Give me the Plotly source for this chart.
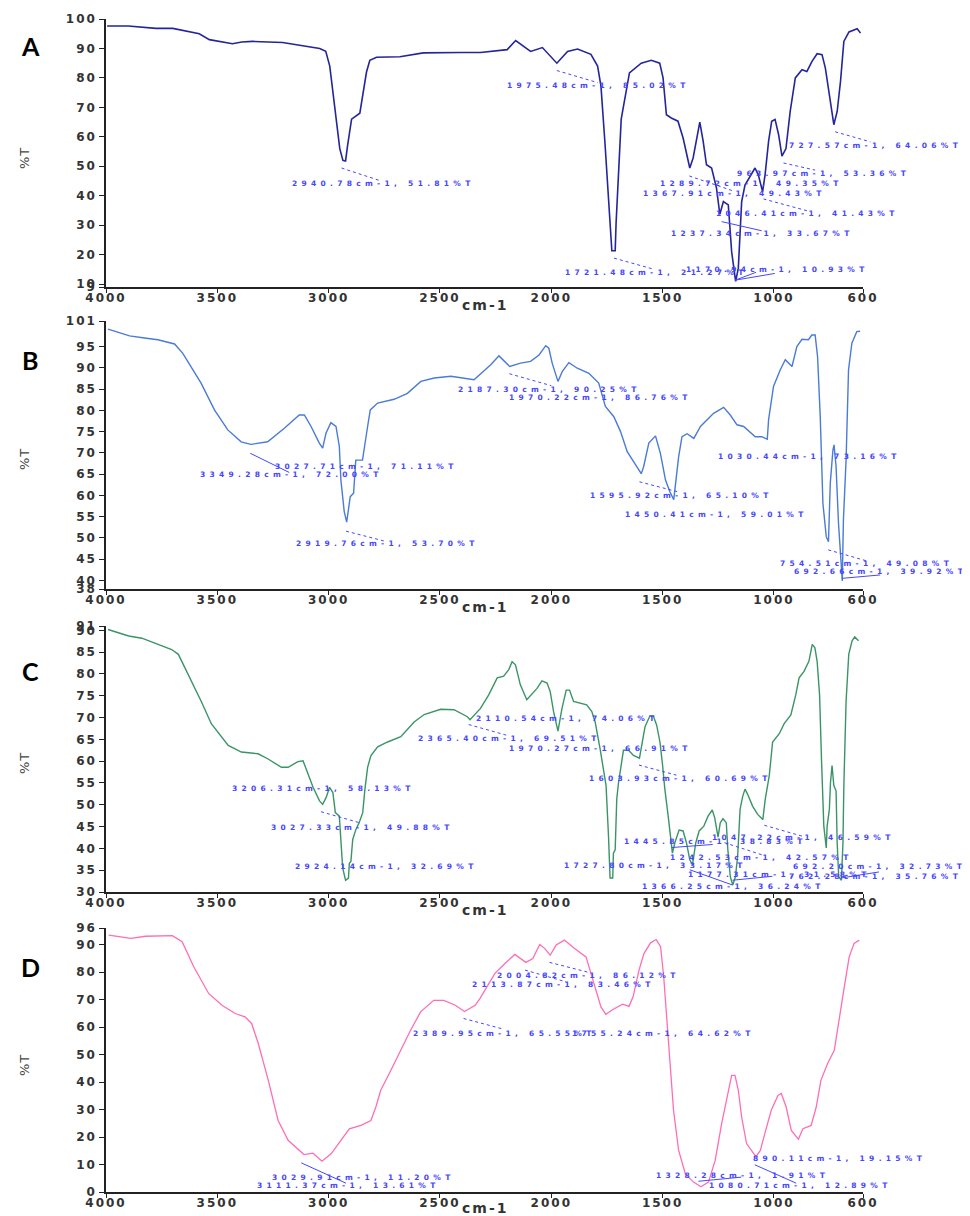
import plotly.graph_objects as go

# ---------------- data (wavenumber cm-1, %T) ----------------
A_wn = [3995, 3900, 3776, 3700, 3581, 3536, 3432, 3390, 3342, 3207, 3040, 3013, 2995, 2981, 2963,
        2950, 2936, 2924, 2915, 2905, 2897, 2860, 2845, 2830, 2815, 2785, 2680, 2575, 2408, 2318,
        2198, 2160, 2093, 2040, 1975, 1927, 1882, 1822, 1792, 1777, 1759, 1739, 1728, 1713, 1709,
        1686, 1671, 1649, 1596, 1551, 1513, 1498, 1483, 1461, 1431, 1408, 1378, 1363, 1333, 1318,
        1303, 1280, 1258, 1243, 1227, 1205, 1190, 1172, 1160, 1145, 1130, 1085, 1070, 1051, 1040,
        1024, 1010, 995, 979, 964, 946, 927, 904, 874, 852, 829, 806, 784, 769, 746, 731, 716,
        701, 686, 663, 626, 611]
A_T = [97.6, 97.6, 96.8, 96.8, 95.0, 93.0, 91.6, 92.2, 92.4, 92.0, 90.0, 89.0, 84.0, 75.0, 64.0,
       56.0, 52.0, 51.8, 57.0, 62.0, 66.0, 68.0, 75.0, 82.0, 86.0, 87.0, 87.2, 88.5, 88.6, 88.6,
       89.6, 92.7, 89.0, 90.3, 85.0, 89.0, 89.8, 88.0, 84.0, 77.3, 58.0, 34.0, 21.3, 21.3, 30.6,
       66.0, 72.0, 81.7, 85.0, 86.0, 85.0, 80.0, 67.5, 66.4, 65.3, 59.6, 49.4, 52.8, 65.0, 58.5,
       50.5, 49.4, 42.6, 33.7, 38.0, 36.9, 21.0, 10.9, 15.4, 38.0, 43.6, 49.4, 47.0, 41.4, 47.0,
       58.5, 65.3, 65.9, 60.7, 53.4, 56.0, 68.6, 80.0, 82.8, 82.2, 85.6, 88.2, 87.9, 83.3, 70.9, 64.1, 68.6,
       78.8, 92.4, 95.6, 96.7, 95.2]

B_wn = [3991, 3917, 3894, 3827, 3767, 3692, 3655, 3573, 3513, 3453, 3393, 3349, 3274, 3199, 3132,
        3109, 3079, 3042, 3027, 3012, 2990, 2967, 2952, 2945, 2930, 2919, 2903, 2888, 2878, 2848,
        2840, 2825, 2813, 2780, 2706, 2646, 2586, 2526, 2451, 2347, 2272, 2235, 2187, 2138, 2093,
        2055, 2025, 2011, 1996, 1970, 1951, 1921, 1883, 1831, 1787, 1757, 1719, 1689, 1659, 1630,
        1596, 1585, 1562, 1532, 1510, 1487, 1468, 1450, 1443, 1428, 1413, 1390, 1360, 1330, 1271,
        1226, 1196, 1166, 1136, 1084, 1054, 1030, 1024, 1002, 972, 949, 919, 897, 874, 845, 830,
        815, 804, 792, 780, 765, 755, 747, 735, 730, 721, 710, 693, 688, 676, 665, 650, 635, 628, 613]
B_T = [99.1, 98.0, 97.5, 97.0, 96.6, 95.6, 93.4, 86.4, 80.1, 75.4, 72.6, 72.0, 72.6, 75.8, 78.9,
       78.9, 76.2, 72.3, 71.1, 74.6, 77.1, 76.2, 71.5, 63.6, 56.2, 53.7, 59.7, 60.5, 68.3, 68.3,
       71.5, 76.2, 80.1, 81.7, 82.6, 84.0, 86.8, 87.6, 88.0, 87.2, 90.7, 92.8, 90.3, 91.1, 91.5,
       93.0, 95.2, 94.6, 91.1, 86.8, 89.1, 91.2, 89.9, 88.7, 86.4, 80.9, 78.5, 75.0, 70.3, 67.9,
       65.1, 66.8, 72.3, 74.0, 69.9, 63.6, 60.9, 59.0, 62.0, 69.1, 73.8, 74.5, 73.4, 76.2, 79.3,
       80.7, 78.9, 76.6, 76.2, 73.8, 73.8, 73.2, 77.8, 85.6, 89.5, 91.9, 90.3, 95.0, 96.7, 96.6, 97.7,
       97.7, 92.6, 78.5, 58.1, 50.3, 49.1, 62.9, 70.7, 71.9, 66.8, 53.4, 39.9, 54.2, 68.3, 89.5, 95.8, 97.5, 98.5, 98.6]

C_wn = [3991, 3898, 3839, 3764, 3705, 3675, 3630, 3572, 3527, 3451, 3392, 3317, 3272, 3212, 3182,
        3138, 3115, 3093, 3070, 3041, 3027, 3011, 2996, 2981, 2970, 2952, 2944, 2937, 2924, 2911,
        2907, 2900, 2892, 2878, 2863, 2847, 2837, 2825, 2810, 2780, 2735, 2676, 2616, 2571, 2497,
        2437, 2377, 2365, 2318, 2281, 2243, 2214, 2191, 2176, 2161, 2139, 2110, 2094, 2064, 2042,
        2019, 2005, 1990, 1970, 1952, 1933, 1918, 1900, 1870, 1841, 1818, 1803, 1781, 1766, 1754,
        1743, 1736, 1724, 1721, 1713, 1706, 1698, 1683, 1676, 1653, 1631, 1604, 1594, 1579, 1557,
        1542, 1527, 1512, 1500, 1490, 1475, 1468, 1456, 1445, 1426, 1408, 1393, 1378, 1366, 1351,
        1336, 1315, 1296, 1277, 1266, 1251, 1241, 1229, 1214, 1207, 1196, 1185, 1173, 1163, 1152,
        1140, 1130, 1118, 1096, 1073, 1050, 1039, 1021, 1006, 976, 954, 924, 902, 887, 865, 843,
        828, 816, 806, 795, 786, 776, 765, 761, 751, 746, 739, 731, 721, 716, 709, 697, 690, 686,
        676, 664, 649, 637, 620]
C_T = [90.2, 88.7, 88.2, 86.8, 85.6, 84.5, 79.8, 73.7, 68.6, 63.6, 62.1, 61.7, 60.5, 58.6, 58.6,
       59.9, 60.1, 57.1, 54.0, 50.9, 50.1, 51.7, 54.0, 52.8, 48.2, 47.4, 41.3, 35.5, 32.7, 33.2,
       36.6, 37.0, 42.0, 44.3, 45.9, 48.2, 53.6, 58.6, 61.3, 63.3, 64.4, 65.6, 69.0, 70.7, 71.9,
       71.8, 70.2, 69.5, 72.1, 75.2, 79.1, 79.5, 81.0, 82.8, 82.1, 77.5, 74.1, 75.0, 76.7, 78.4,
       77.9, 76.0, 71.4, 66.9, 72.1, 76.3, 76.3, 73.7, 73.3, 72.9, 71.4, 69.0, 62.9, 57.8, 54.4,
       42.8, 33.2, 33.2, 38.9, 39.7, 51.3, 55.1, 59.8, 62.5, 62.5, 61.3, 60.7, 63.6, 67.9, 70.4,
       70.4, 68.3, 64.4, 59.0, 53.6, 47.4, 44.3, 38.9, 41.3, 44.2, 44.0, 41.3, 37.4, 36.2, 41.3,
       44.0, 45.1, 47.4, 48.8, 47.0, 42.6, 45.9, 46.8, 45.9, 39.7, 33.5, 31.6, 33.5, 38.2, 49.0,
       52.0, 53.6, 52.4, 49.7, 47.8, 46.6, 51.3, 56.7, 64.4, 66.3, 68.6, 70.6, 75.2, 79.1, 80.6, 82.9,
       86.8, 86.0, 82.9, 75.2, 59.8, 45.1, 40.1, 45.1, 49.0, 55.1, 59.0, 54.4, 53.2, 41.3, 33.5, 32.7,
       41.3, 54.4, 73.7, 84.5, 87.6, 88.5, 87.6]

D_wn = [3988, 3911, 3888, 3822, 3702, 3658, 3606, 3539, 3479, 3420, 3376, 3346, 3316, 3271, 3227,
        3182, 3111, 3070, 3030, 2989, 2944, 2907, 2855, 2810, 2788, 2766, 2721, 2677, 2632, 2587,
        2528, 2483, 2431, 2390, 2342, 2320, 2253, 2208, 2164, 2114, 2083, 2052, 2030, 2005, 1978,
        1941, 1897, 1844, 1822, 1799, 1777, 1755, 1725, 1680, 1651, 1633, 1606, 1584, 1554, 1529,
        1509, 1495, 1480, 1465, 1451, 1428, 1398, 1361, 1328, 1294, 1264, 1235, 1212, 1190, 1175,
        1160, 1145, 1123, 1081, 1061, 1041, 1012, 982, 967, 945, 922, 890, 870, 833, 810, 789,
        759, 729, 707, 684, 662, 640, 617]
D_T = [93.4, 92.6, 92.2, 93.0, 93.2, 91.0, 81.9, 72.2, 67.9, 64.9, 63.7, 61.3, 54.0, 40.6, 26.0,
       18.8, 13.6, 14.1, 11.2, 13.9, 18.8, 23.0, 24.2, 26.0, 30.9, 37.0, 44.2, 51.5, 58.8, 65.5,
       69.7, 69.7, 67.9, 65.6, 67.9, 70.4, 79.5, 83.1, 86.4, 83.5, 84.9, 90.0, 88.6, 86.1, 89.8,
       91.6, 88.6, 85.5, 79.5, 73.4, 67.3, 64.6, 66.3, 68.3, 67.5, 70.9, 80.7, 86.7, 90.6, 91.8,
       89.2, 78.2, 62.5, 47.9, 29.7, 15.1, 6.6, 3.6, 1.9, 3.6, 11.5, 24.8, 34.5, 42.4, 42.4,
       37.0, 27.2, 17.6, 12.9, 15.1, 21.2, 29.7, 35.1, 35.8, 30.9, 22.4, 19.2, 23.0, 24.2, 30.9, 40.6,
       46.7, 51.5, 63.7, 74.6, 85.5, 90.4, 91.6]

PANEL_LABELS = ["A", "B", "C", "D"]
X_TICKS = [4000, 3500, 3000, 2500, 2000, 1500, 1000, 600]
Y_TICKS = {
    "A": [100, 90, 80, 70, 60, 50, 40, 30, 20, 10, 9],
    "B": [101, 95, 90, 85, 80, 75, 70, 65, 60, 55, 50, 45, 40, 38],
    "C": [91, 90, 85, 80, 75, 70, 65, 60, 55, 50, 45, 40, 35, 30],
    "D": [96, 90, 80, 70, 60, 50, 40, 30, 20, 10, 0],
}

# peak labels: (text, x of text start [cm-1], y [%T])
PEAKS = {
    "A": [("2940.78cm-1, 51.81%T", 3175, 44.0), ("1975.48cm-1, 85.02%T", 2206, 77.3),
          ("727.57cm-1, 64.06%T", 942, 57.2), ("963.97cm-1, 53.36%T", 1176, 47.4),
          ("1289.72cm-1, 49.35%T", 1519, 44.0), ("1367.91cm-1, 49.43%T", 1596, 40.9),
          ("1046.41cm-1, 41.43%T", 1267, 34.1), ("1237.34cm-1, 33.67%T", 1470, 27.3),
          ("1721.48cm-1, 21.27%T", 1949, 13.8), ("1170.94cm-1, 10.93%T", 1402, 15.1)],
    "B": [("3349.28cm-1, 72.00%T", 3586, 64.8), ("3027.71cm-1, 71.11%T", 3251, 66.8),
          ("2919.76cm-1, 53.70%T", 3157, 48.6), ("2187.30cm-1, 90.25%T", 2429, 85.0),
          ("1970.22cm-1, 86.76%T", 2200, 82.9), ("1595.92cm-1, 65.10%T", 1833, 59.9),
          ("1450.41cm-1, 59.01%T", 1676, 55.4), ("1030.44cm-1, 73.16%T", 1259, 69.1),
          ("754.51cm-1, 49.08%T", 981, 43.9), ("692.66cm-1, 39.92%T", 919, 42.2)],
    "C": [("3206.31cm-1, 58.13%T", 3445, 53.8), ("3027.33cm-1, 49.88%T", 3266, 44.9),
          ("2924.14cm-1, 32.69%T", 3160, 35.8), ("2365.40cm-1, 69.51%T", 2609, 65.2),
          ("2110.54cm-1, 74.06%T", 2349, 69.8), ("1970.27cm-1, 66.91%T", 2201, 62.9),
          ("1603.93cm-1, 60.69%T", 1839, 56.1), ("1445.85cm-1, 38.83%T", 1684, 41.5),
          ("1047.22cm-1, 46.59%T", 1289, 42.4), ("1242.53cm-1, 42.57%T", 1477, 37.9),
          ("1727.80cm-1, 33.17%T", 1952, 36.0), ("692.20cm-1, 32.73%T", 923, 35.8),
          ("1177.31cm-1, 31.58%T", 1393, 33.9), ("762.28cm-1, 35.76%T", 940, 33.5),
          ("1366.25cm-1, 36.24%T", 1602, 31.2)],
    "D": [("3029.91cm-1, 11.20%T", 3265, 5.4), ("3111.37cm-1, 13.61%T", 3332, 2.3),
          ("2389.95cm-1, 65.55%T", 2632, 57.8), ("1755.24cm-1, 64.62%T", 1918, 57.8),
          ("2004.82cm-1, 86.12%T", 2253, 78.8), ("2113.87cm-1, 83.46%T", 2364, 75.5),
          ("890.11cm-1, 19.15%T", 1101, 12.1), ("1328.28cm-1, 1.91%T", 1539, 6.0),
          ("1080.71cm-1, 12.89%T", 1302, 2.3)],
}
# leader lines: (x0, y0, x1, y1, dash)
LEADERS = {
    "A": [(2942, 49.4, 2769, 45.1, "dot"), (1975, 82.5, 1792, 78.4, "dot"), (725, 61.7, 567, 58.3, "dot"),
          (957, 51.1, 815, 48.7, "dot"), (1380, 46.7, 1182, 41.6, "dot"), (1047, 38.9, 852, 34.9, "dot"),
          (1235, 31.2, 1055, 28.1, "solid"), (1718, 18.8, 1543, 15.1, "dot"),
          (1175, 11.3, 996, 13.6, "solid"), (1175, 11.3, 1080, 14.0, "solid")],
    "B": [(3352, 69.9, 3177, 65.4, "solid"), (2922, 51.6, 2752, 49.3, "dot"), (2188, 88.6, 2000, 85.8, "dot"),
          (1604, 63.2, 1435, 60.9, "dot"), (756, 47.2, 583, 44.6, "dot"), (695, 40.5, 523, 41.3, "solid")],
    "C": [(3034, 48.4, 2862, 45.9, "dot"), (2371, 68.4, 2197, 65.9, "dot"), (1606, 59.1, 1438, 56.8, "dot"),
          (1043, 45.3, 873, 42.8, "dot"), (1222, 41.3, 1052, 38.5, "dot"), (700, 33.2, 528, 34.6, "solid"),
          (1459, 40.2, 1275, 40.9, "solid"), (1378, 35.1, 1186, 31.6, "solid"), (1186, 32.7, 1007, 33.6, "solid")],
    "D": [(3123, 10.6, 2922, 3.2, "solid"), (2394, 63.1, 2223, 59.4, "dot"), (2008, 83.5, 1829, 79.8, "dot"),
          (2118, 80.7, 1933, 76.4, "dot"), (1086, 9.9, 900, 3.2, "solid"), (1339, 3.9, 1147, 5.4, "solid")],
}

SERIES = {"A": (A_wn, A_T), "B": (B_wn, B_T), "C": (C_wn, C_T), "D": (D_wn, D_T)}
COLORS = {"A": "#25259a", "B": "#4a7bd6", "C": "#3a9466", "D": "#ff6eb4"}
LW = {"A": 1.6, "B": 1.4, "C": 1.4, "D": 1.3}

# ---------------- layout geometry (page pixels; the page body has an 8px margin) ----------------
OFF = 8
W, H = 970 - OFF, 1216 - OFF


def fx(px):
    return (px - OFF) / W


def fy(py):
    return 1 - (py - OFF) / H


X_DOM = [fx(106), fx(863)]
Y_DOM = {"A": (fy(287), fy(19)), "B": (fy(589), fy(321)),
         "C": (fy(892), fy(626)), "D": (fy(1192), fy(928))}
LETTER_Y = {"A": 46, "B": 360, "C": 671, "D": 967}
PCT_Y = {"A": 158, "B": 459, "C": 763, "D": 1065}
CM_OFFSET = {"A": 18, "B": 18, "C": 18, "D": 16}

ANN_COLOR = "#4646ff"
TICK_FONT = dict(family="DejaVu Sans", size=12, color="#333333", weight="bold")


def spaced(s, sp=2):
    return f'<span style="letter-spacing:{sp}px">{s}</span>'


def to_paper(key, wn, val):
    y0, y1 = Y_DOM[key]
    yt = Y_TICKS[key]
    ymin, ymax = min(yt), max(yt)
    xp = X_DOM[0] + (4000 - wn) / 3400 * (X_DOM[1] - X_DOM[0])
    yp = y0 + (val - ymin) / (ymax - ymin) * (y1 - y0)
    return xp, yp


fig = go.Figure()
annotations = []
shapes = []
for i, key in enumerate(PANEL_LABELS):
    n = "" if i == 0 else str(i + 1)
    wn, t = SERIES[key]
    fig.add_trace(go.Scatter(x=wn, y=t, mode="lines", xaxis="x" + n, yaxis="y" + n,
                             line=dict(color=COLORS[key], width=LW[key], shape="linear"),
                             hoverinfo="skip", showlegend=False))
    yt = Y_TICKS[key]
    fig.update_layout(**{
        "xaxis" + n: dict(domain=X_DOM, range=[4000, 600], anchor="y" + n, automargin=False,
                          tickvals=X_TICKS, ticktext=[spaced(str(v)) for v in X_TICKS],
                          ticks="outside", ticklen=4, tickwidth=1, tickcolor="#222",
                          ticklabelstandoff=-5,
                          showline=True, linecolor="#222", linewidth=1.5, mirror=False,
                          showgrid=False, zeroline=False, tickfont=TICK_FONT),
        "yaxis" + n: dict(domain=list(Y_DOM[key]), range=[min(yt), max(yt)], anchor="x" + n,
                          automargin=False,
                          tickvals=yt, ticktext=[spaced(str(v)) for v in yt],
                          ticks="outside", ticklen=5, tickwidth=1, tickcolor="#222",
                          showline=True, linecolor="#222", linewidth=1.5,
                          showgrid=False, zeroline=False, tickfont=TICK_FONT),
    })
    # peak labels
    for text, x, y in PEAKS[key]:
        xp, yp = to_paper(key, x, y)
        annotations.append(dict(text=spaced(text, 4.3), x=xp, y=yp, xref="paper", yref="paper",
                                xanchor="left", yanchor="middle", showarrow=False,
                                font=dict(family="DejaVu Sans", size=7.5, color=ANN_COLOR, weight="bold")))
    for x0, y0, x1, y1, dash in LEADERS[key]:
        a0 = to_paper(key, x0, y0)
        a1 = to_paper(key, x1, y1)
        shapes.append(dict(type="line", xref="paper", yref="paper", x0=a0[0], y0=a0[1], x1=a1[0], y1=a1[1],
                           line=dict(color=ANN_COLOR, width=1, dash=dash)))
    # panel letter
    annotations.append(dict(text=f"<b>{key}</b>", x=fx(30), y=fy(LETTER_Y[key]), xref="paper", yref="paper",
                            xanchor="center", yanchor="middle", showarrow=False,
                            font=dict(family="Lato", size=25, color="black")))
    # axis titles
    y0, y1 = Y_DOM[key]
    annotations.append(dict(text=spaced("%T", 1), x=fx(24), y=fy(PCT_Y[key]), xref="paper", yref="paper",
                            textangle=-90, xanchor="center", yanchor="middle", showarrow=False,
                            font=dict(family="DejaVu Sans", size=13, color="#444")))
    annotations.append(dict(text=spaced("cm-1", 2), x=fx(485), y=y0 - CM_OFFSET[key] / H, xref="paper",
                            yref="paper", xanchor="center", yanchor="middle", showarrow=False,
                            font=dict(family="DejaVu Sans", size=14, color="#333", weight="bold")))

fig.update_layout(template="none", width=W, height=H, margin=dict(l=0, r=0, t=0, b=0),
                  paper_bgcolor="white", plot_bgcolor="white",
                  annotations=annotations, shapes=shapes, showlegend=False)
fig.write_html("out.html")
